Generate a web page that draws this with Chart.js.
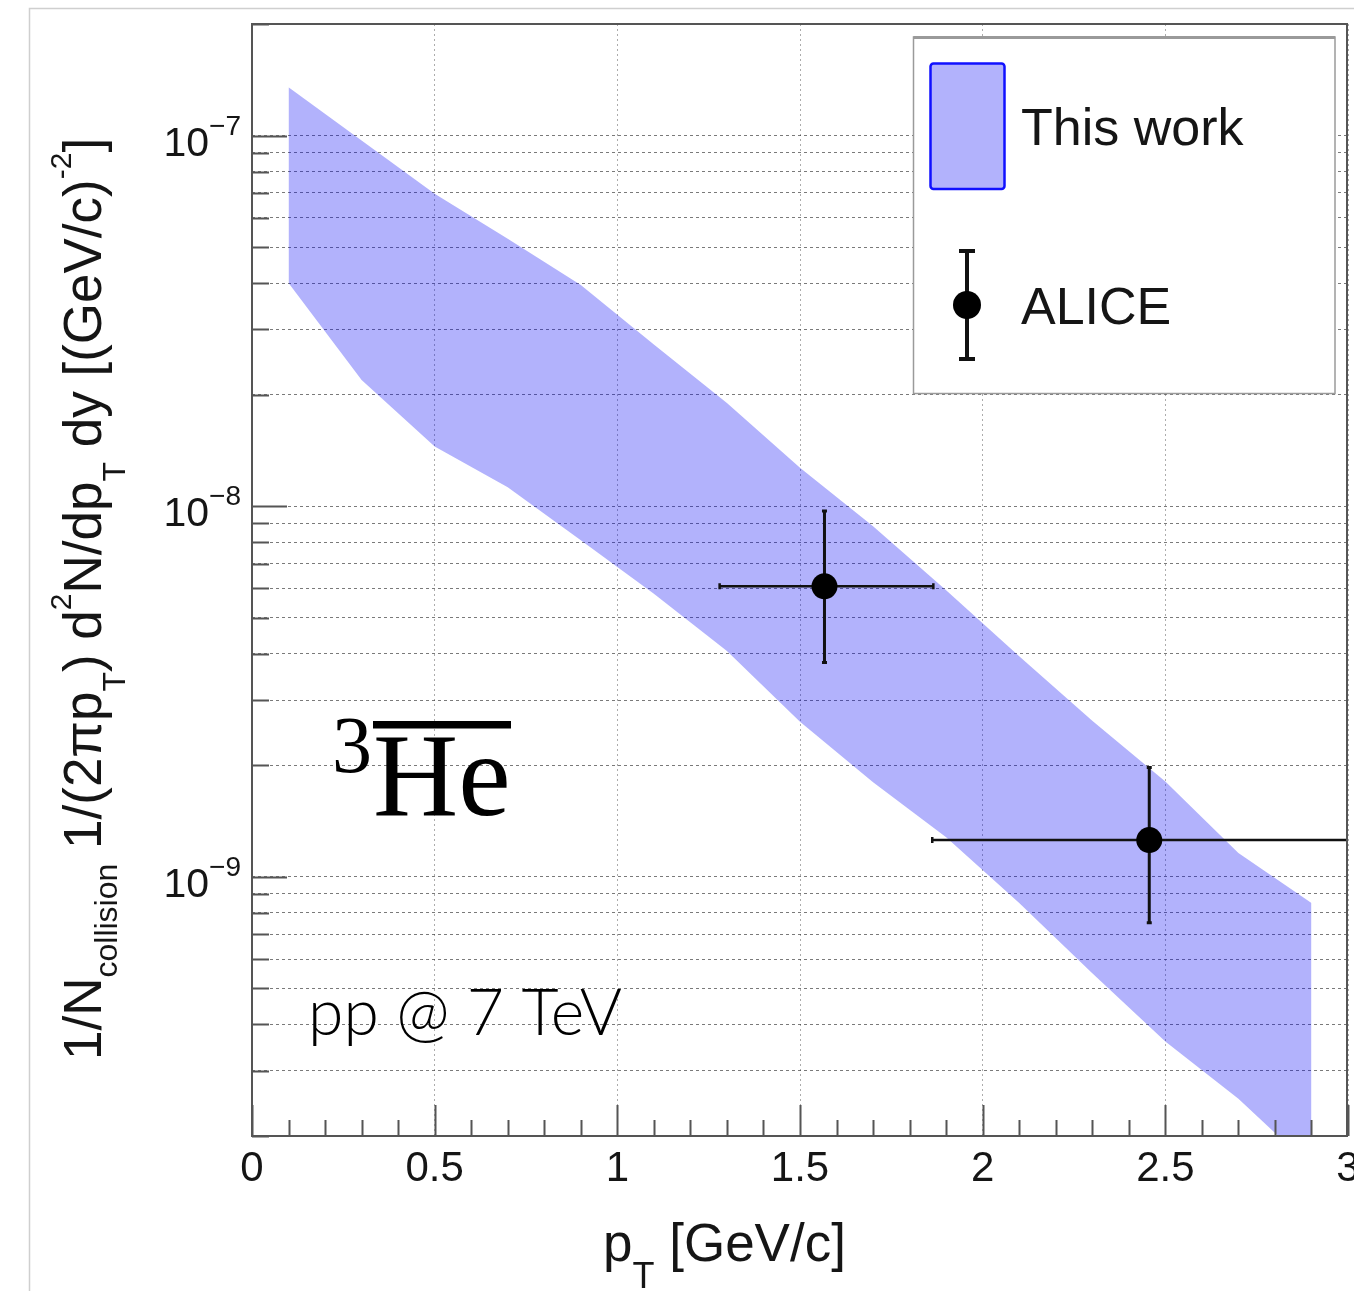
<!DOCTYPE html>
<html>
<head>
<meta charset="utf-8">
<script src="https://cdn.jsdelivr.net/npm/chart.js@4.4.1/dist/chart.umd.min.js"></script>
<style>
  html, body { margin: 0; padding: 0; background: #fff; }
  canvas { display: block; }
</style>
</head>
<body>
<canvas id="chart" width="1354" height="1291"></canvas>
<script>
// "This work" band: pT points with upper / lower edge of the band
const bandPt   = [0.1, 0.3, 0.5, 0.7, 0.9, 1.1, 1.3, 1.5, 1.7, 1.9, 2.1, 2.3, 2.5, 2.7, 2.9];
const bandHigh = [1.35e-7, 9.7e-8, 6.97e-8, 5.27e-8, 3.95e-8, 2.73e-8, 1.90e-8, 1.27e-8, 8.83e-9, 5.93e-9, 3.94e-9, 2.64e-9, 1.81e-9, 1.16e-9, 8.5e-10];
const bandLow  = [4.0e-8, 2.19e-8, 1.45e-8, 1.125e-8, 8.09e-9, 5.81e-9, 4.07e-9, 2.62e-9, 1.80e-9, 1.28e-9, 8.5e-10, 5.5e-10, 3.6e-10, 2.52e-10, 1.65e-10];

// ALICE points with error bars
const alicePt     = [1.567, 2.456];
const alicePtLow  = [1.28, 1.862];
const alicePtHigh = [1.865, 3.0];
const aliceY      = [6.08e-9, 1.257e-9];
const aliceYLow   = [3.79e-9, 7.52e-10];
const aliceYHigh  = [9.71e-9, 1.974e-9];

// axes
const xMin = 0, xMax = 3;
const yMin = 2e-10, yMax = 2e-7;
const xMajorTicks = [0, 0.5, 1, 1.5, 2, 2.5, 3];
const xTickLabels = ['0', '0.5', '1', '1.5', '2', '2.5', '3'];
const yMajorTicks = [1e-9, 1e-8, 1e-7];
const yTickExp    = ['\u22129', '\u22128', '\u22127'];

const SANS = '"Liberation Sans", Arial, Helvetica, sans-serif';
const SERIF = '"Liberation Serif", "Times New Roman", serif';
const bandColor = 'rgba(0, 0, 245, 0.3)';

// log grid: every 1..9 x 10^n inside the range
const yGrid = [];
for (let e = -10; e <= -7; e++) {
  for (let m = 1; m <= 9; m++) {
    const v = m * Math.pow(10, e);
    if (v >= yMin * 0.999 && v <= yMax * 1.001) yGrid.push(v);
  }
}
// minor x ticks every 0.1
const xMinor = [];
for (let i = 0; i <= 30; i++) xMinor.push(i / 10);

function drawRich(ctx, parts, x, y) {
  let cx = x;
  parts.forEach(p => {
    ctx.font = p.size + 'px ' + SANS;
    ctx.fillText(p.t, cx, y + (p.dy || 0));
    cx += ctx.measureText(p.t).width;
  });
}

const rootStyle = {
  id: 'rootStyle',
  beforeDraw(chart) {
    const ctx = chart.ctx;
    ctx.save();
    ctx.fillStyle = '#fff';
    ctx.fillRect(0, 0, chart.width, chart.height);
    ctx.strokeStyle = '#cfcfcf';
    ctx.lineWidth = 1.5;
    ctx.beginPath();
    ctx.moveTo(29.5, chart.height);
    ctx.lineTo(29.5, 8.5);
    ctx.lineTo(chart.width, 8.5);
    ctx.stroke();
    ctx.restore();
  },
  beforeDatasetDraw(chart, args) {
    if (args.index !== 2) return;
    const {ctx, chartArea: a, scales: {x, y}} = chart;
    ctx.save();
    ctx.beginPath();
    ctx.rect(a.left, a.top, a.right - a.left, a.bottom - a.top);
    ctx.clip();
    ctx.strokeStyle = '#111';
    alicePt.forEach((pt, i) => {
      const px = x.getPixelForValue(pt), py = y.getPixelForValue(aliceY[i]);
      const xl = x.getPixelForValue(alicePtLow[i]), xh = x.getPixelForValue(alicePtHigh[i]);
      const yl = y.getPixelForValue(aliceYLow[i]), yh = y.getPixelForValue(aliceYHigh[i]);
      ctx.lineWidth = 2.5;
      ctx.beginPath();
      ctx.moveTo(xl, py); ctx.lineTo(xh, py);
      ctx.moveTo(xl, py - 3); ctx.lineTo(xl, py + 3);
      ctx.moveTo(xh, py - 3); ctx.lineTo(xh, py + 3);
      ctx.stroke();
      ctx.lineWidth = 3;
      ctx.beginPath();
      ctx.moveTo(px, yl); ctx.lineTo(px, yh);
      ctx.moveTo(px - 2.5, yl); ctx.lineTo(px + 2.5, yl);
      ctx.moveTo(px - 2.5, yh); ctx.lineTo(px + 2.5, yh);
      ctx.stroke();
    });
    ctx.restore();
  },
  afterDraw(chart) {
    const {ctx, chartArea: a, scales: {x, y}} = chart;
    ctx.save();

    // ticks inside the frame
    ctx.strokeStyle = '#555';
    ctx.lineWidth = 2;
    ctx.beginPath();
    xMinor.forEach(v => {
      const px = Math.round(x.getPixelForValue(v)) + 0.5;
      const major = Math.abs(v * 2 - Math.round(v * 2)) < 1e-6;
      ctx.moveTo(px, a.bottom);
      ctx.lineTo(px, a.bottom - (major ? 31 : 16));
    });
    yGrid.forEach(v => {
      const py = Math.round(y.getPixelForValue(v)) + 0.5;
      const major = yMajorTicks.some(m => Math.abs(m - v) / m < 1e-6);
      ctx.moveTo(a.left, py);
      ctx.lineTo(a.left + (major ? 35 : 17), py);
    });
    ctx.stroke();

    // frame
    ctx.strokeStyle = '#555';
    ctx.lineWidth = 2;
    ctx.strokeRect(a.left, a.top, a.right - a.left - 1, a.bottom - a.top);

    // x tick labels
    ctx.fillStyle = '#151515';
    ctx.font = '42px ' + SANS;
    ctx.textAlign = 'center';
    ctx.textBaseline = 'alphabetic';
    xMajorTicks.forEach((v, i) => {
      ctx.fillText(xTickLabels[i], x.getPixelForValue(v), 1181);
    });

    // y tick labels 10^n
    ctx.textAlign = 'right';
    yMajorTicks.forEach((v, i) => {
      const py = y.getPixelForValue(v);
      ctx.font = '28px ' + SANS;
      const ew = ctx.measureText(yTickExp[i]).width;
      ctx.fillText(yTickExp[i], 241, py - 1);
      ctx.font = '41px ' + SANS;
      ctx.fillText('10', 241 - ew, py + 20);
    });

    // axis titles
    ctx.textAlign = 'left';
    drawRich(ctx, [
      {t: 'p', size: 53},
      {t: 'T', size: 36, dy: 27},
      {t: ' [GeV/c]', size: 53}
    ], 603, 1261);

    const yTitle = [
      {t: '1/N', size: 53},
      {t: 'collision', size: 32, dy: 16},
      {t: ' 1/(2\u03c0p', size: 53},
      {t: 'T', size: 32, dy: 24},
      {t: ') d', size: 53},
      {t: '2', size: 30, dy: -30},
      {t: 'N/dp', size: 53},
      {t: 'T', size: 32, dy: 24},
      {t: ' dy [(GeV/c)', size: 53},
      {t: '-2', size: 30, dy: -30},
      {t: ']', size: 53}
    ];
    ctx.save();
    ctx.translate(101, 1060);
    ctx.rotate(-Math.PI / 2);
    drawRich(ctx, yTitle, 0, 0);
    ctx.restore();

    // 3He-bar label
    ctx.fillStyle = '#000';
    ctx.font = '118px ' + SERIF;
    ctx.fillText('He', 373, 815);
    ctx.font = '80px ' + SERIF;
    ctx.fillText('3', 332, 772);
    ctx.fillRect(373, 721, 138, 7.5);

    // pp @ 7 TeV
    ctx.font = '300 66px Lato, "Open Sans", ' + SANS;
    const ppw = ctx.measureText('pp @ 7 TeV').width;
    const ppSize = 66 * 314 / ppw;
    ctx.font = '300 ' + ppSize.toFixed(1) + 'px Lato, "Open Sans", ' + SANS;
    ctx.fillText('pp @ 7 TeV', 308, 1035);

    // legend
    ctx.fillStyle = '#fff';
    ctx.fillRect(913.5, 37, 421.5, 356.5);
    ctx.strokeStyle = '#9a9a9a';
    ctx.lineWidth = 1.5;
    ctx.strokeRect(913.5, 37, 421.5, 356.5);
    ctx.lineWidth = 3;
    ctx.beginPath(); ctx.moveTo(913.5, 37.5); ctx.lineTo(1335, 37.5); ctx.stroke();

    ctx.fillStyle = bandColor;
    ctx.strokeStyle = '#1010ff';
    ctx.lineWidth = 2.5;
    ctx.beginPath();
    ctx.roundRect(930.5, 63.5, 74, 125.5, 3);
    ctx.fill();
    ctx.stroke();

    ctx.strokeStyle = '#111';
    ctx.lineWidth = 4;
    ctx.beginPath();
    ctx.moveTo(967, 251); ctx.lineTo(967, 359);
    ctx.moveTo(959, 251); ctx.lineTo(975, 251);
    ctx.moveTo(959, 359); ctx.lineTo(975, 359);
    ctx.stroke();
    ctx.fillStyle = '#000';
    ctx.beginPath();
    ctx.arc(967, 305, 14, 0, Math.PI * 2);
    ctx.fill();

    ctx.fillStyle = '#151515';
    ctx.font = '52px ' + SANS;
    ctx.fillText(chart.data.datasets[1].label, 1021, 145);
    ctx.fillText(chart.data.datasets[2].label, 1021, 324);

    ctx.restore();
  }
};

new Chart(document.getElementById('chart'), {
  type: 'line',
  data: {
    datasets: [
      {
        label: 'This work (upper)',
        data: bandPt.map((v, i) => ({x: v, y: bandHigh[i]})),
        borderColor: 'transparent',
        borderWidth: 0,
        pointRadius: 0,
        fill: false,
        order: 2
      },
      {
        label: 'This work',
        data: bandPt.map((v, i) => ({x: v, y: bandLow[i]})),
        borderColor: 'transparent',
        borderWidth: 0,
        pointRadius: 0,
        backgroundColor: bandColor,
        fill: '-1',
        order: 2
      },
      {
        type: 'scatter',
        label: 'ALICE',
        data: alicePt.map((v, i) => ({x: v, y: aliceY[i]})),
        pointRadius: 13,
        pointHoverRadius: 13,
        pointBackgroundColor: '#000',
        pointBorderColor: '#000',
        pointBorderWidth: 0,
        order: 1
      }
    ]
  },
  options: {
    responsive: false,
    animation: false,
    devicePixelRatio: 1,
    events: [],
    layout: { autoPadding: false, padding: { left: 0, top: 24, right: 6, bottom: 0 } },
    plugins: { legend: { display: false }, tooltip: { enabled: false } },
    scales: {
      x: {
        type: 'linear',
        min: xMin,
        max: xMax,
        afterBuildTicks: s => { s.ticks = xMajorTicks.map(v => ({value: v})); },
        afterFit: s => { s.height = 155; },
        ticks: { display: false },
        grid: { color: 'rgba(90, 90, 90, 0.5)', lineWidth: 1, drawTicks: false },
        border: { display: false, dash: [2, 3] }
      },
      y: {
        type: 'logarithmic',
        min: yMin,
        max: yMax,
        afterBuildTicks: s => { s.ticks = yGrid.map(v => ({value: v})); },
        afterFit: s => { s.width = 252; },
        ticks: { display: false },
        grid: { color: 'rgba(50, 50, 50, 0.65)', lineWidth: 1, drawTicks: false },
        border: { display: false, dash: [3, 3] }
      }
    }
  },
  plugins: [rootStyle]
});
</script>
</body>
</html>
